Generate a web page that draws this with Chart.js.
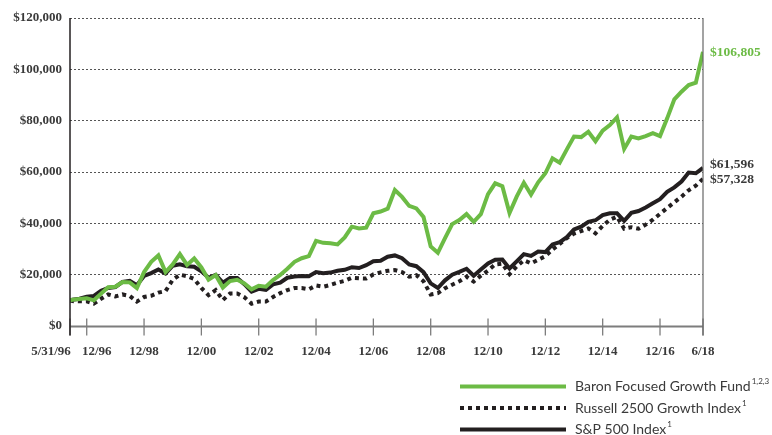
<!DOCTYPE html>
<html>
<head>
<meta charset="utf-8">
<script src="https://cdn.jsdelivr.net/npm/chart.js@4.4.1/dist/chart.umd.min.js"></script>
<style>
  html, body { margin: 0; padding: 0; background: #fff; }
  #wrap { width: 772px; height: 435px; }
</style>
</head>
<body>
<div id="wrap"><canvas id="growthChart" width="772" height="435"></canvas></div>
<script>
// quarter-end dates (yyyy-mm); first point is the 5/31/96 start
const dates = [
  '1996-05', '1996-06', '1996-09', '1996-12',
  '1997-03', '1997-06', '1997-09', '1997-12',
  '1998-03', '1998-06', '1998-09', '1998-12',
  '1999-03', '1999-06', '1999-09', '1999-12',
  '2000-03', '2000-06', '2000-09', '2000-12',
  '2001-03', '2001-06', '2001-09', '2001-12',
  '2002-03', '2002-06', '2002-09', '2002-12',
  '2003-03', '2003-06', '2003-09', '2003-12',
  '2004-03', '2004-06', '2004-09', '2004-12',
  '2005-03', '2005-06', '2005-09', '2005-12',
  '2006-03', '2006-06', '2006-09', '2006-12',
  '2007-03', '2007-06', '2007-09', '2007-12',
  '2008-03', '2008-06', '2008-09', '2008-12',
  '2009-03', '2009-06', '2009-09', '2009-12',
  '2010-03', '2010-06', '2010-09', '2010-12',
  '2011-03', '2011-06', '2011-09', '2011-12',
  '2012-03', '2012-06', '2012-09', '2012-12',
  '2013-03', '2013-06', '2013-09', '2013-12',
  '2014-03', '2014-06', '2014-09', '2014-12',
  '2015-03', '2015-06', '2015-09', '2015-12',
  '2016-03', '2016-06', '2016-09', '2016-12',
  '2017-03', '2017-06', '2017-09', '2017-12',
  '2018-03', '2018-06'
];

// growth of $10,000
const fundValues = [
  10000, 10200, 10500, 10800,
  10000, 12600, 15100, 15300,
  17100, 17000, 14800, 21000,
  25000, 27500, 21000, 24000,
  28000, 23800, 26300, 22800,
  18000, 19800, 15000, 17500,
  18000, 16600, 14300, 15700,
  15300, 17900, 19900, 22300,
  25000, 26400, 27200, 33200,
  32400, 32200, 31800, 34500,
  38700, 38000, 38300, 43900,
  44600, 45700, 53000, 50300,
  46800, 45800, 42500, 31000,
  28500, 34200, 39700, 41300,
  43600, 40600, 43600, 51400,
  55600, 54500, 44000, 50400,
  55800, 51200, 56000, 59500,
  65300, 63600, 68800, 73800,
  73600, 75700, 72000, 76100,
  78300, 81300, 69000, 73800,
  73100, 74000, 75100, 74000,
  80900, 88300, 91300, 93900,
  94800, 106805
];

const russellValues = [
  10000, 9700, 9600, 9600,
  8700, 10600, 12300, 11500,
  12300, 11700, 9500, 11300,
  11800, 13000, 13600, 18000,
  20000, 19400, 18300, 14800,
  12000, 14000, 10100, 12700,
  12700, 11200, 8700, 9500,
  9500, 11300, 12800, 14000,
  14800, 14800, 14300, 15800,
  15300, 16000, 16900, 17600,
  18800, 18600, 18500, 20100,
  20900, 21500, 21800, 21000,
  19200, 19800, 17400, 12300,
  12800, 14700, 16100, 17400,
  19200, 17300, 19600, 21600,
  24000, 24300, 20200, 23200,
  25600, 24400, 25800, 27200,
  29800, 32000, 34300, 36000,
  37000, 38000, 36100, 39000,
  41400, 42600, 37900, 38500,
  37900, 39500, 41400, 43700,
  46000, 48200, 50400, 52900,
  54700, 57328
];

const spValues = [
  10000, 10200, 10600, 11400,
  11700, 13700, 14800, 15200,
  17200, 17600, 15900, 19500,
  20600, 22000, 20500, 23500,
  24000, 23300, 23100, 21300,
  18800, 19900, 16900, 18700,
  18700, 16300, 13400, 14500,
  14100, 16200, 16900, 18800,
  19300, 19500, 19400, 21000,
  20600, 20800, 21500, 21900,
  22900, 22600, 23700, 25200,
  25400, 27000, 27500, 26400,
  24000, 23300, 21000, 16600,
  14800, 17800, 20000, 21100,
  22300, 19600, 22000, 24400,
  25800, 25900, 22400, 25200,
  28000, 27300, 29000, 28800,
  31800, 32700, 34600, 37600,
  38700, 40600, 41200, 43200,
  43900, 43900, 41000, 44100,
  44800, 46200, 47800, 49400,
  52300, 54000, 56300, 59800,
  59500, 61596
];

const seriesNames = ['Baron Focused Growth Fund', 'Russell 2500 Growth Index', 'S&P 500 Index'];
const seriesNotes = ['1,2,3', '1', '1'];

const tickDates = ['1996-05', '1996-12', '1998-12', '2000-12', '2002-12', '2004-12', '2006-12',
  '2008-12', '2010-12', '2012-12', '2014-12', '2016-12', '2018-06'];
const tickLabels = ['5/31/96', '12/96', '12/98', '12/00', '12/02', '12/04', '12/06',
  '12/08', '12/10', '12/12', '12/14', '12/16', '6/18'];

const GREEN = '#6cbb45';
const INK = '#231f20';
const TEXT = '#3a3a3a';
const SERIF = '"Liberation Serif", "Times New Roman", serif';

// months since the start date, used as the x value
function monthOf(d) {
  const [yy, mm] = d.split('-').map(Number);
  return (yy - 1996) * 12 + (mm - 5);
}
const xs = dates.map(monthOf);
const pts = vals => vals.map((v, i) => ({ x: xs[i], y: v }));
const money = v => '$' + Math.round(v).toLocaleString('en-US');

function seg(ctx, x1, y1, x2, y2) {
  ctx.beginPath();
  ctx.moveTo(x1, y1);
  ctx.lineTo(x2, y2);
  ctx.stroke();
}

// axis frame, date labels, end values and the legend
const decorations = {
  id: 'decorations',
  afterDraw(chart) {
    const { ctx, chartArea: a, scales: { x, y } } = chart;
    const base = Math.round(y.getPixelForValue(0)) + 0.5;
    ctx.save();

    ctx.strokeStyle = '#7d7d7d';
    ctx.lineWidth = 2;
    seg(ctx, a.left, base, a.right, base);
    ctx.lineWidth = 1.3;
    tickDates.forEach(d => {
      const px = x.getPixelForValue(monthOf(d));
      seg(ctx, px, base - 8, px, base + 9);
    });
    ctx.strokeStyle = '#666';
    ctx.lineWidth = 1.2;
    seg(ctx, a.right, a.top, a.right, base + 9);
    ctx.strokeStyle = INK;
    ctx.lineWidth = 1.5;
    seg(ctx, a.left, a.top, a.left, base + 9);

    // date labels; the first two are nudged apart
    const shift = { 0: -19, 1: 10 };
    ctx.fillStyle = TEXT;
    ctx.font = 'bold 13px ' + SERIF;
    ctx.textAlign = 'center';
    ctx.textBaseline = 'middle';
    tickDates.forEach((d, i) => {
      ctx.fillText(tickLabels[i], x.getPixelForValue(monthOf(d)) + (shift[i] || 0), 352);
    });

    // ending values
    ctx.textAlign = 'left';
    ctx.font = 'bold 13.5px ' + SERIF;
    const last = arr => arr[arr.length - 1];
    const ends = [
      [last(fundValues), GREEN, 1],
      [last(spValues), TEXT, -3],
      [last(russellValues), TEXT, 1]
    ];
    ends.forEach(([v, c, dy]) => {
      ctx.fillStyle = c;
      ctx.fillText(money(v), a.right + 7, y.getPixelForValue(v) + dy);
    });

    // legend
    const rows = [
      { y: 386.5, color: GREEN, dash: [] },
      { y: 408, color: INK, dash: [4, 4] },
      { y: 429.5, color: INK, dash: [] }
    ];
    rows.forEach((r, i) => {
      ctx.strokeStyle = r.color;
      ctx.lineWidth = 4;
      ctx.lineCap = 'butt';
      ctx.setLineDash(r.dash);
      seg(ctx, 460, r.y, 566, r.y);
      ctx.setLineDash([]);
      ctx.fillStyle = TEXT;
      ctx.font = '14px Lato, "Open Sans", sans-serif';
      ctx.textBaseline = 'middle';
      ctx.fillText(seriesNames[i], 575, r.y);
      const w = ctx.measureText(seriesNames[i]).width;
      ctx.font = '8px Lato, "Open Sans", sans-serif';
      ctx.fillText(seriesNotes[i], 575 + w + 1, r.y - 5);
    });

    ctx.restore();
  }
};

new Chart(document.getElementById('growthChart'), {
  type: 'line',
  data: {
    datasets: [
      { label: seriesNames[0], data: pts(fundValues), borderColor: GREEN, borderWidth: 4 },
      { label: seriesNames[2], data: pts(spValues), borderColor: INK, borderWidth: 4 },
      { label: seriesNames[1], data: pts(russellValues), borderColor: INK, borderWidth: 4,
        borderDash: [4, 4], borderCapStyle: 'butt' }
    ]
  },
  options: {
    responsive: false,
    animation: false,
    events: [],
    layout: { padding: { top: 18, right: 69, bottom: 0, left: 0 } },
    elements: {
      point: { radius: 0 },
      line: { tension: 0, borderJoinStyle: 'miter', fill: false }
    },
    scales: {
      x: {
        type: 'linear',
        min: 0,
        max: monthOf('2018-06'),
        display: true,
        grid: { display: false },
        border: { display: false },
        ticks: { display: false },
        afterFit: s => { s.height = 109; }
      },
      y: {
        min: 0,
        max: 120000,
        border: { display: false, dash: [2, 2] },
        grid: {
          drawTicks: false,
          lineWidth: 1,
          color: c => (c.tick && c.tick.value === 0 ? 'rgba(0,0,0,0)' : '#555')
        },
        ticks: {
          stepSize: 20000,
          padding: 8,
          color: TEXT,
          font: { family: SERIF, weight: 'bold', size: 13 },
          callback: v => money(v)
        },
        afterFit: s => { s.width = 70; }
      }
    },
    plugins: { legend: { display: false }, tooltip: { enabled: false } }
  },
  plugins: [decorations]
});
</script>
</body>
</html>
